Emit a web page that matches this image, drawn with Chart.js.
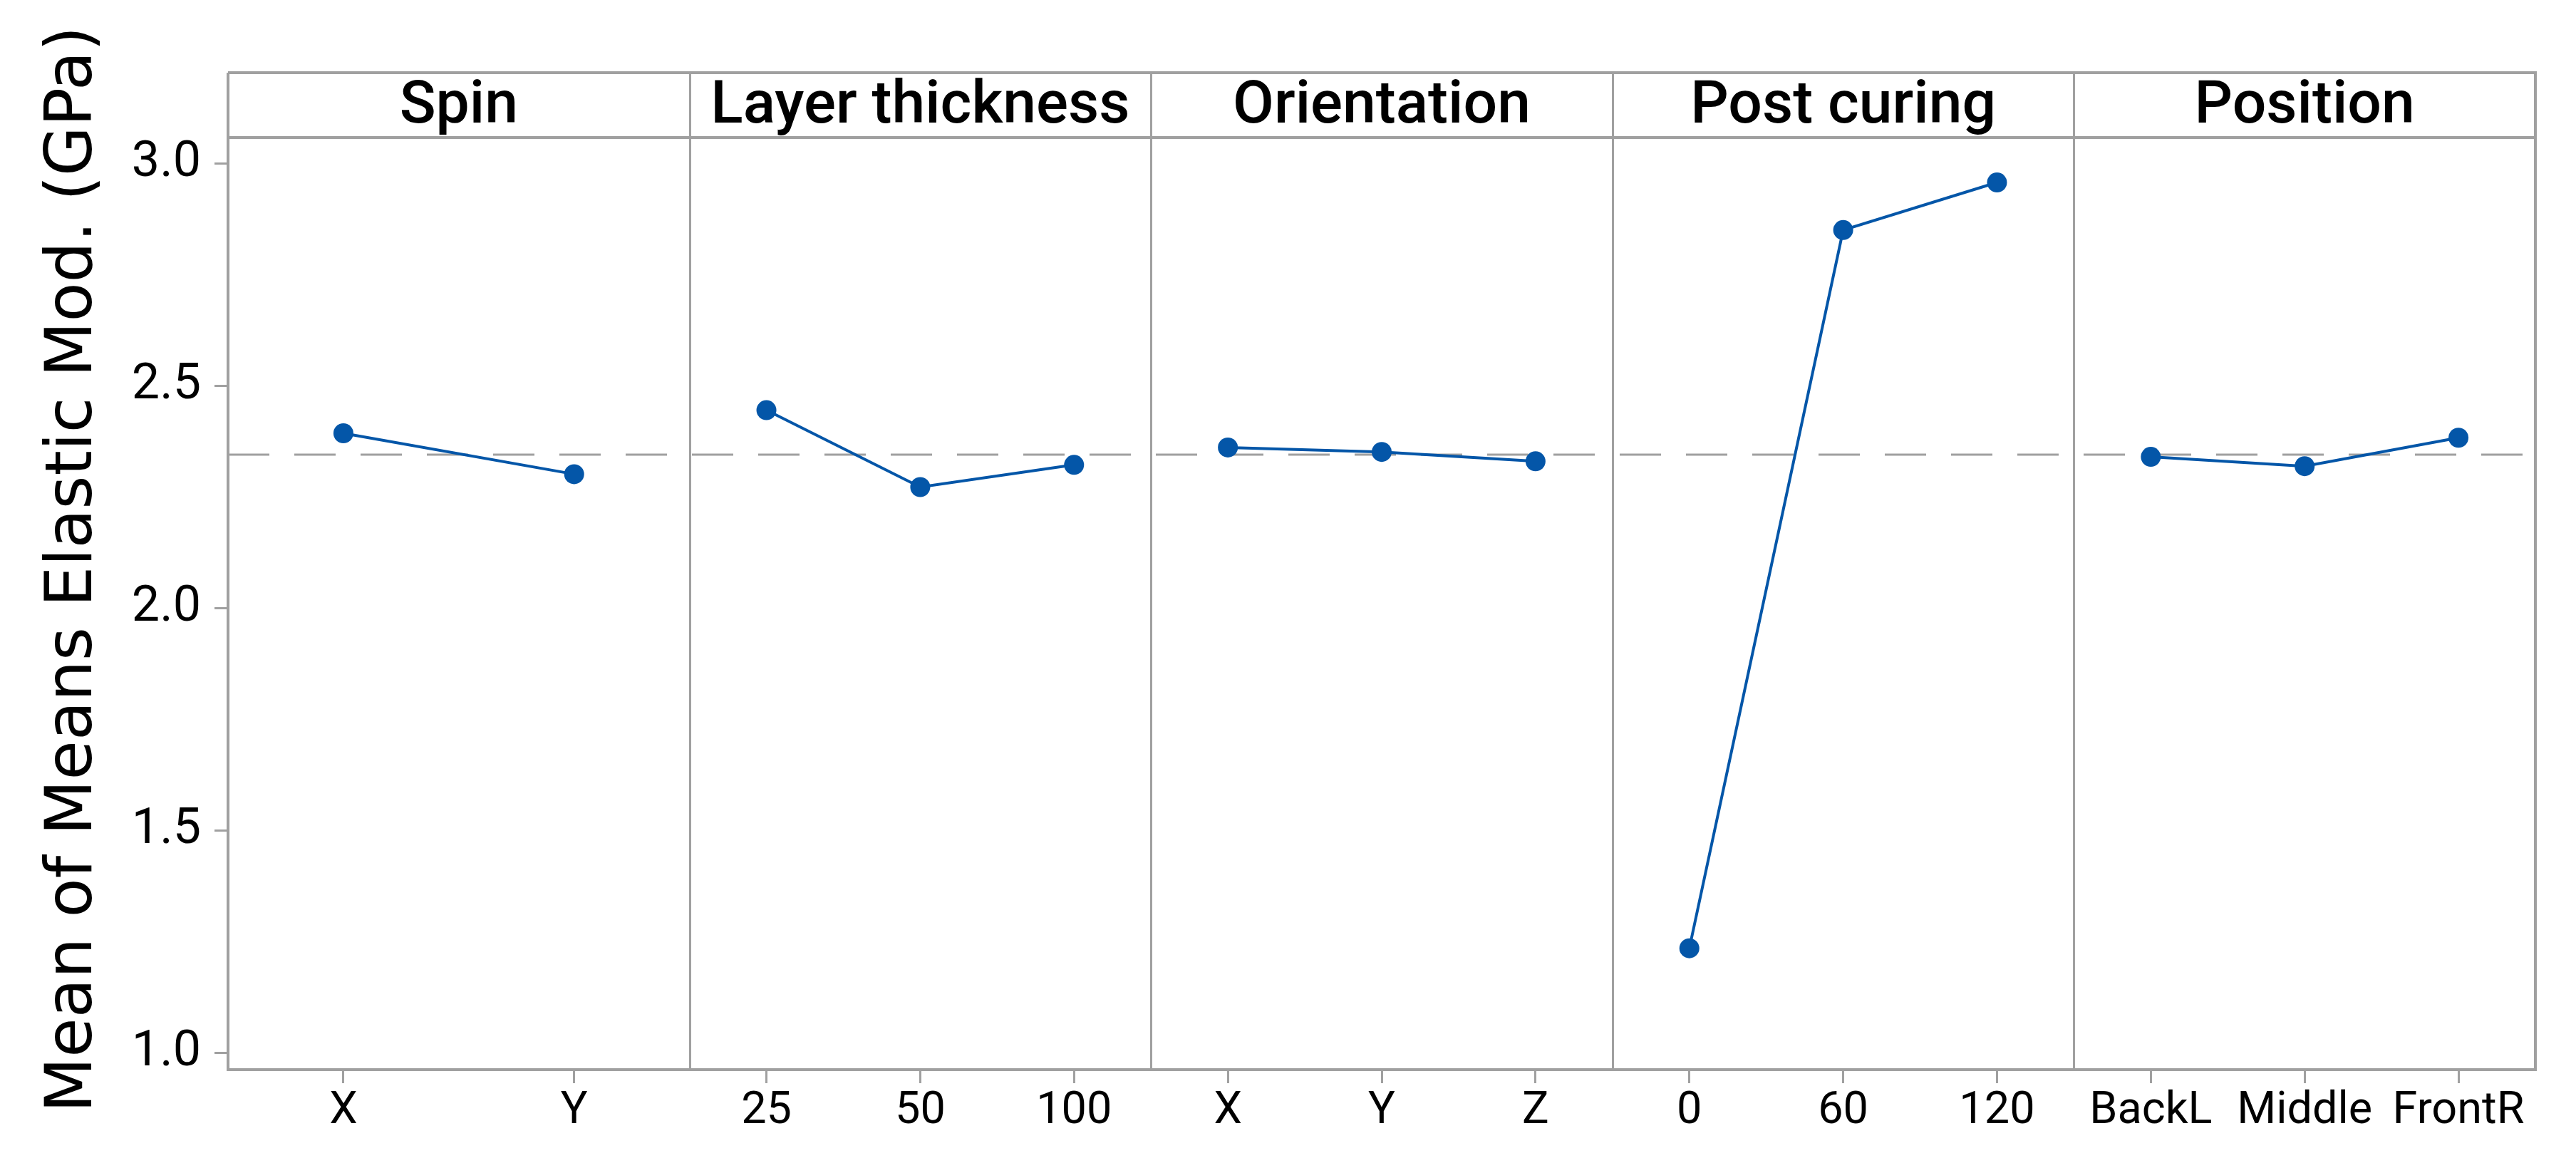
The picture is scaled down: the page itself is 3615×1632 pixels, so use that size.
<!DOCTYPE html>
<html>
<head>
<meta charset="utf-8">
<script src="https://cdn.jsdelivr.net/npm/chart.js@4.4.1/dist/chart.umd.min.js"></script>
<style>
  html, body { margin: 0; padding: 0; background: #fff; }
  canvas { display: block; }
</style>
</head>
<body>
<canvas id="mainEffects" width="3615" height="1632"></canvas>
<script>
// factor names (panel headers)
const factorNames = ['Spin', 'Layer thickness', 'Orientation', 'Post curing', 'Position'];

// levels of each factor (x tick labels)
const spinLevels = ['X', 'Y'];
const layerLevels = ['25', '50', '100'];
const orientLevels = ['X', 'Y', 'Z'];
const curingLevels = ['0', '60', '120'];
const positionLevels = ['BackL', 'Middle', 'FrontR'];

// mean elastic modulus (GPa) for each level
const spinMeans = [2.394, 2.302];
const layerMeans = [2.446, 2.273, 2.323];
const orientMeans = [2.362, 2.352, 2.331];
const curingMeans = [1.236, 2.851, 2.958];
const positionMeans = [2.341, 2.320, 2.384];

const grandMean = 2.346;
const yTickValues = [1.0, 1.5, 2.0, 2.5, 3.0];

const levelSets = [spinLevels, layerLevels, orientLevels, curingLevels, positionLevels];
const meanSets = [spinMeans, layerMeans, orientMeans, curingMeans, positionMeans];

const BLUE = '#0456a8';
const GREY = '#a0a0a0';

// each panel is one unit wide on a linear x scale, levels centred in equal slots
const tickValues = [];
const tickText = {};
const datasets = meanSets.map((means, p) => {
    const levels = levelSets[p];
    const pts = means.map((m, j) => {
        const x = p + (j + 0.5) / levels.length;
        tickValues.push(x);
        tickText[x.toFixed(4)] = levels[j];
        return { x: x, y: m };
    });
    return {
        label: factorNames[p],
        data: pts,
        borderColor: BLUE,
        backgroundColor: BLUE,
        borderWidth: 4,
        pointRadius: 14,
        pointHoverRadius: 14,
        pointBorderWidth: 0,
        tension: 0,
        order: 0,
    };
});

datasets.push({
    label: 'Mean',
    data: [{ x: 0, y: grandMean }, { x: factorNames.length, y: grandMean }],
    borderColor: GREY,
    borderWidth: 3,
    borderDash: [58, 35],
    pointRadius: 0,
    order: 10,
});

// frame, header strip, panel dividers, panel titles and y title
const panelFrame = {
    id: 'panelFrame',
    afterDraw(chart) {
        const { ctx, chartArea } = chart;
        const xs = chart.scales.x;
        const headTop = 102;
        ctx.save();
        ctx.strokeStyle = GREY;
        ctx.lineWidth = 4;
        ctx.beginPath();
        ctx.moveTo(chartArea.left, headTop);
        ctx.lineTo(chartArea.right, headTop);
        ctx.lineTo(chartArea.right, chartArea.bottom);
        ctx.moveTo(chartArea.left, headTop);
        ctx.lineTo(chartArea.left, chartArea.top);
        ctx.moveTo(chartArea.left, chartArea.top);
        ctx.lineTo(chartArea.right, chartArea.top);
        ctx.stroke();

        ctx.lineWidth = 3;
        ctx.beginPath();
        for (let p = 1; p < factorNames.length; p++) {
            const px = Math.round(xs.getPixelForValue(p)) + 0.5;
            ctx.moveTo(px, headTop);
            ctx.lineTo(px, chartArea.bottom);
        }
        ctx.stroke();

        ctx.fillStyle = '#000';
        ctx.font = '500 84px Roboto';
        ctx.textAlign = 'center';
        ctx.textBaseline = 'alphabetic';
        factorNames.forEach((name, p) => {
            const cx = xs.getPixelForValue(p + 0.5);
            ctx.fillText(name, cx, 172);
        });

        ctx.translate(128, 799);
        ctx.rotate(-Math.PI / 2);
        ctx.font = '90px "DejaVu Sans"';
        ctx.fillText('Mean of Means Elastic Mod. (GPa)', 0, 0);
        ctx.restore();
    }
};

new Chart(document.getElementById('mainEffects'), {
    type: 'line',
    data: { datasets: datasets },
    options: {
        responsive: false,
        animation: false,
        devicePixelRatio: 1,
        layout: { padding: { top: 193, right: 57, bottom: 0, left: 0 } },
        plugins: {
            legend: { display: false },
            tooltip: { enabled: false },
        },
        scales: {
            x: {
                type: 'linear',
                min: 0,
                max: factorNames.length,
                afterFit(scale) { scale.height = 131; },
                afterBuildTicks(scale) {
                    scale.ticks = tickValues.map(v => ({ value: v }));
                },
                ticks: {
                    autoSkip: false,
                    maxRotation: 0,
                    padding: 2,
                    color: '#000',
                    font: { family: 'Roboto', size: 63 },
                    callback: (v) => tickText[Number(v).toFixed(4)] || '',
                },
                grid: {
                    drawOnChartArea: false,
                    drawTicks: true,
                    tickLength: 19,
                    color: GREY,
                    lineWidth: 3,
                },
                border: { display: true, color: GREY, width: 4 },
            },
            y: {
                min: 0.963,
                max: 3.059,
                afterFit(scale) { scale.width = 320; },
                afterBuildTicks(scale) {
                    scale.ticks = yTickValues.map(v => ({ value: v }));
                },
                ticks: {
                    padding: 19,
                    color: '#000',
                    font: { family: 'Roboto', size: 70 },
                    callback: (v) => Number(v).toFixed(1),
                },
                grid: {
                    drawOnChartArea: false,
                    drawTicks: true,
                    tickLength: 19,
                    color: GREY,
                    lineWidth: 3,
                },
                border: { display: true, color: GREY, width: 4 },
            },
        },
    },
    plugins: [panelFrame],
});
</script>
</body>
</html>
